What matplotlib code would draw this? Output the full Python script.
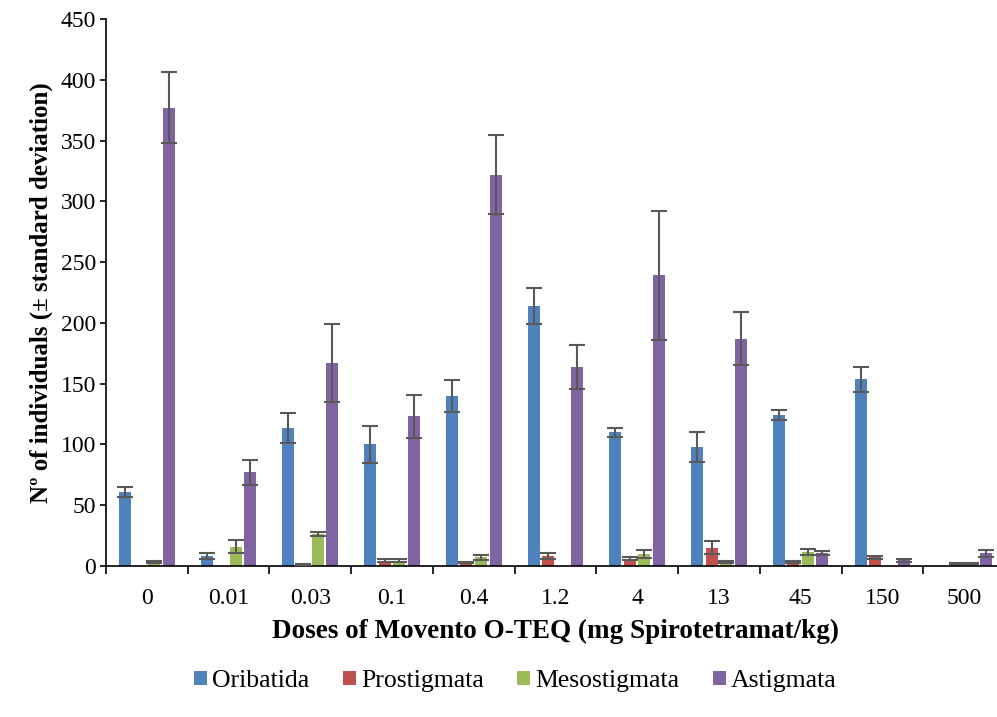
import numpy as np
import matplotlib
matplotlib.use("Agg")
import matplotlib.pyplot as plt

plt.rcParams['font.family'] = ['Liberation Serif', 'DejaVu Serif']

doses = ["0", "0.01", "0.03", "0.1", "0.4", "1.2", "4", "13", "45", "150", "500"]
groups = ["Oribatida", "Prostigmata", "Mesostigmata", "Astigmata"]
colors = ["#4F81BD", "#C0504D", "#9BBB59", "#8064A2"]

# mean number of individuals per dose
oribatida = [61, 8, 113.5, 100, 140, 214, 110, 98, 124, 153.5, 0]
prostigmata = [0, 0, 1.5, 4.5, 3, 8, 6, 15, 3.5, 7, 2]
mesostigmata = [3.5, 16, 26.5, 4.5, 7, 0, 10, 3.5, 11.5, 0, 2]
astigmata = [377, 77, 167, 123, 322, 164, 239, 187, 10.7, 4.7, 10.4]

# standard deviations (nan = no error bar)
sd_oribatida = [4, 2.5, 12, 15, 13, 15, 3.5, 12.5, 4, 10, np.nan]
sd_prostigmata = [np.nan, np.nan, 0.5, 1.5, 0.7, 2.5, 1, 5.5, 0.8, 1.5, 0.6]
sd_mesostigmata = [1, 5.5, 1.5, 1.2, 2, np.nan, 3.3, 0.8, 2.8, np.nan, 0.6]
sd_astigmata = [29, 10.5, 32, 18, 32.5, 18, 53, 22, 1.9, 1.4, 2.7]

values = [oribatida, prostigmata, mesostigmata, astigmata]
errors = [sd_oribatida, sd_prostigmata, sd_mesostigmata, sd_astigmata]

fig = plt.figure(figsize=(9.97, 7.17), dpi=100)
ax = fig.add_axes([0.1063, 0.2106, 0.9017, 0.7629])

x = np.arange(len(doses))
step = 0.178
width = 0.147
for i, (name, vals, errs, col) in enumerate(zip(groups, values, errors, colors)):
    pos = x + (i - 1.5) * step
    ax.bar(pos, vals, width=width, color=col, label=name, zorder=2)
    ax.errorbar(pos, vals, yerr=errs, fmt='none', ecolor='#595959',
                elinewidth=1.5, capsize=5.5, capthick=1.5, zorder=3)

ax.set_xlim(-0.5, len(doses) - 0.5)
ax.set_ylim(0, 450)
ax.set_yticks(np.arange(0, 451, 50))
ax.set_xticks(x)
ax.set_xticklabels(doses)
ax.set_xticks(np.arange(-0.5, len(doses) + 0.5, 1), minor=True)
ax.tick_params(axis='x', which='major', length=0, pad=16, labelsize=17)
ax.tick_params(axis='x', which='minor', length=6, width=1.2, direction='out')
ax.tick_params(axis='y', length=4, width=1.2, direction='out', labelsize=17, pad=3)

for side in ['top', 'right']:
    ax.spines[side].set_visible(False)
for side in ['left', 'bottom']:
    ax.spines[side].set_linewidth(1.2)

ax.set_xlabel("Doses of Movento O-TEQ (mg Spirotetramat/kg)", fontsize=19.5,
              fontweight='bold', labelpad=7)
ax.set_ylabel("Nº of individuals (± standard deviation)", fontsize=18,
              fontweight='bold', labelpad=6)

fig.legend(loc='center', bbox_to_anchor=(0.517, 0.05), ncol=4, frameon=False,
           prop={'family': ['Liberation Serif', 'DejaVu Serif'], 'size': 18.5},
           handlelength=0.5, handleheight=0.5,
           handletextpad=0.2, columnspacing=1.3)

fig.savefig("out.png", dpi=100)
